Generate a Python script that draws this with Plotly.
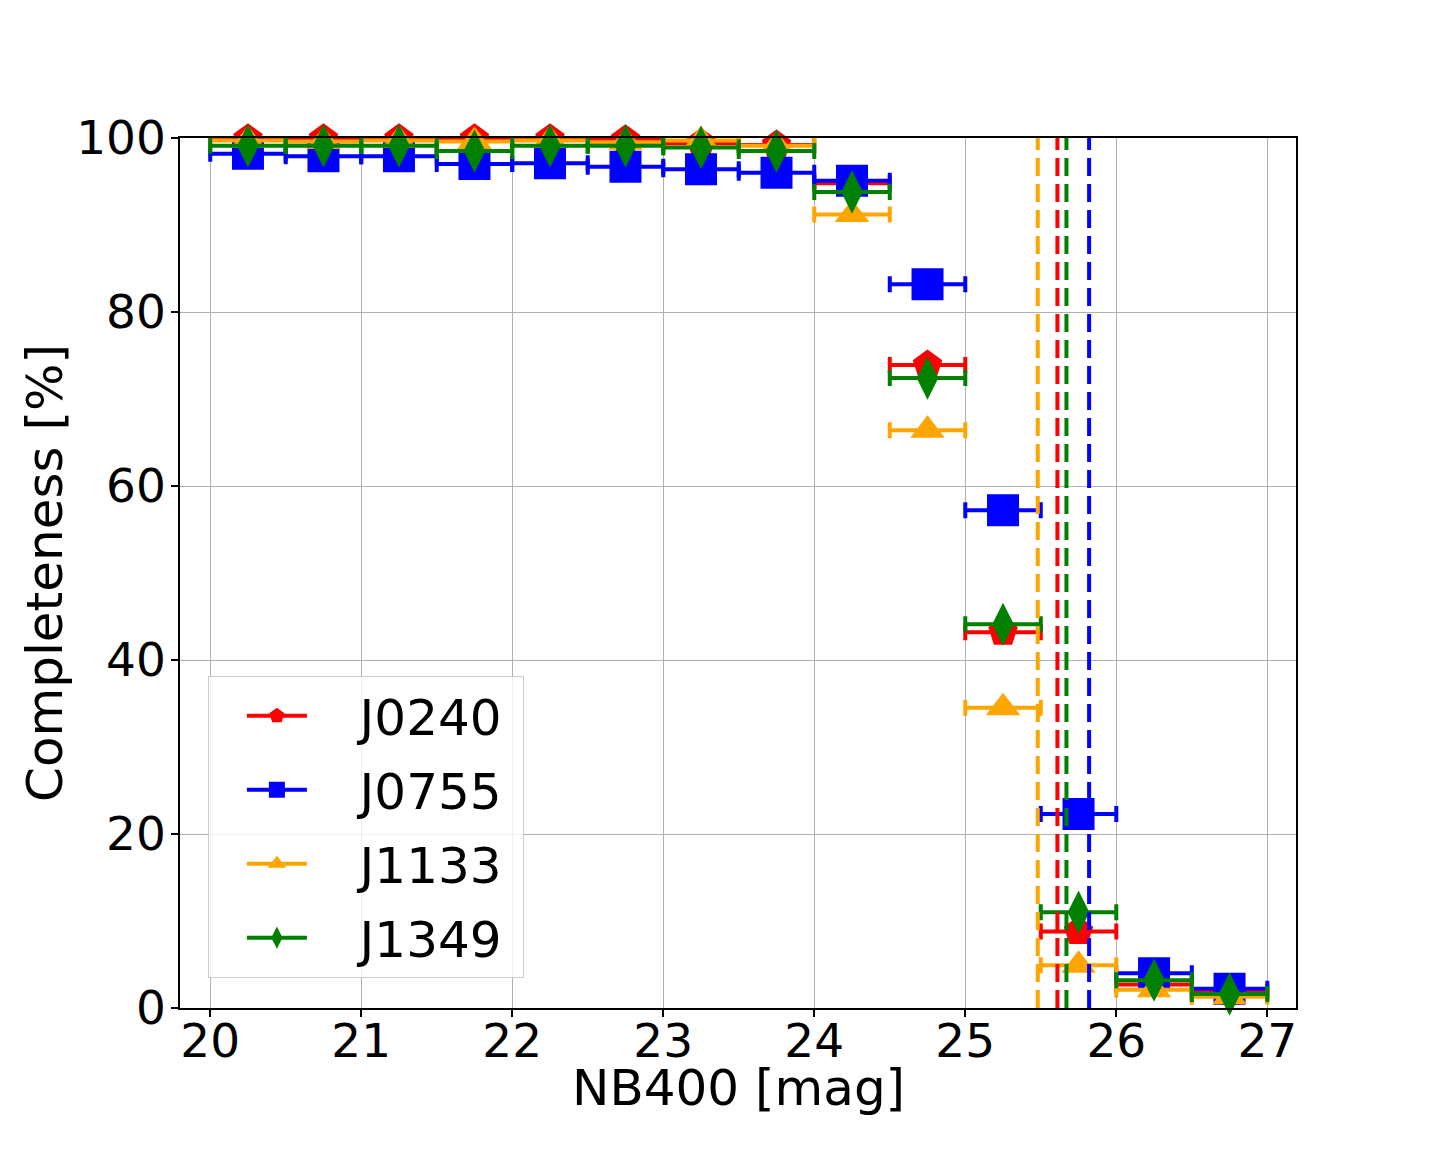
import plotly.graph_objects as go

# bin centres in NB400 magnitude, half bin width shown as x error
mag_bins = [20.25, 20.75, 21.25, 21.75, 22.25, 22.75, 23.25, 23.75,
            24.25, 24.75, 25.25, 25.75, 26.25, 26.75]
bin_half_width = 0.25

fields = ['J0240', 'J0755', 'J1133', 'J1349']

compl_J0240 = [99.9, 99.9, 99.9, 99.9, 99.9, 99.8, 99.4, 99.2,
               94.8, 73.9, 43.2, 8.8, 2.7, 1.8]
compl_J0755 = [98.2, 97.9, 97.9, 97.0, 97.1, 96.7, 96.4, 96.0,
               95.1, 83.2, 57.2, 22.3, 4.0, 2.2]
compl_J1133 = [99.7, 99.6, 99.7, 99.6, 99.7, 99.5, 99.7, 99.1,
               91.2, 66.4, 34.5, 4.9, 2.1, 1.3]
compl_J1349 = [99.1, 99.1, 99.1, 98.5, 99.1, 99.1, 98.9, 98.5,
               93.8, 72.4, 44.1, 11.0, 3.2, 1.6]

# 50% completeness limits per field (dashed lines)
limit_mag = [25.61, 25.82, 25.48, 25.67]

colors = ['red', 'blue', 'orange', 'green']
symbols = ['pentagon', 'square', 'triangle-up', 'diamond-tall']
sizes = [31, 32, 30, 31]

completeness = [compl_J0240, compl_J0755, compl_J1133, compl_J1349]

FONT = 'DejaVu Sans'
NBSP = '\u00a0'

fig = go.Figure()

for name, vals, col, sym, sz in zip(fields, completeness, colors, symbols, sizes):
    fig.add_trace(go.Scatter(
        x=mag_bins, y=vals, mode='markers', name=name,
        showlegend=False, legendgroup=name,
        marker=dict(symbol=sym, size=sz, color=col, line=dict(width=0)),
        error_x=dict(type='constant', value=bin_half_width, color=col,
                     thickness=4, width=8),
        cliponaxis=False,
    ))
    # legend entry: marker with a line through it, like an errorbar glyph
    fig.add_trace(go.Scatter(
        x=[None], y=[None], mode='lines+markers',
        name=NBSP * 3 + name + NBSP,
        legendgroup=name,
        marker=dict(symbol=sym, size=sz, color=col),
        line=dict(color=col, width=4),
    ))

for lim, col in zip(limit_mag, colors):
    fig.add_vline(x=lim, line=dict(color=col, width=4, dash='18px,8px'),
                  layer='above')

axis_common = dict(
    showline=True, linecolor='black', linewidth=1.5, mirror=True,
    ticks='outside', ticklen=7, tickwidth=1.5, tickcolor='black',
    showgrid=True, gridcolor='#b0b0b0', gridwidth=1,
    zeroline=False,
)

fig.update_xaxes(
    range=[19.8, 27.19], dtick=1, tick0=20,
    tickfont=dict(family=FONT, size=47, color='black'),
    ticklabelstandoff=-16,
    **axis_common,
)
fig.update_yaxes(
    range=[0, 100], dtick=20, tick0=0,
    tickfont=dict(family=FONT, size=47, color='black'),
    ticklabelstandoff=-4,
    **axis_common,
)

title_font = dict(family=FONT, size=50, color='black')
fig.add_annotation(text='NB400 [mag]', xref='paper', yref='paper',
                   x=0.5, y=0, xanchor='center', yanchor='middle',
                   yshift=-80, showarrow=False, font=title_font)
fig.add_annotation(text='Completeness [%]', xref='paper', yref='paper',
                   x=0, y=0.5, xanchor='center', yanchor='middle',
                   xshift=-135, textangle=-90, showarrow=False, font=title_font)

fig.update_layout(
    width=1440, height=1152,
    margin=dict(l=172, r=152, t=130, b=152),
    plot_bgcolor='white', paper_bgcolor='white',
    font=dict(family=FONT, color='black'),
    legend=dict(
        x=0.025, y=0.382, xanchor='left', yanchor='top',
        bgcolor='rgba(255,255,255,0.8)', bordercolor='#cccccc', borderwidth=1,
        font=dict(family=FONT, size=50, color='black'),
        itemwidth=60, tracegroupgap=6, indentation=33,
    ),
)

fig.write_html('out.html')
